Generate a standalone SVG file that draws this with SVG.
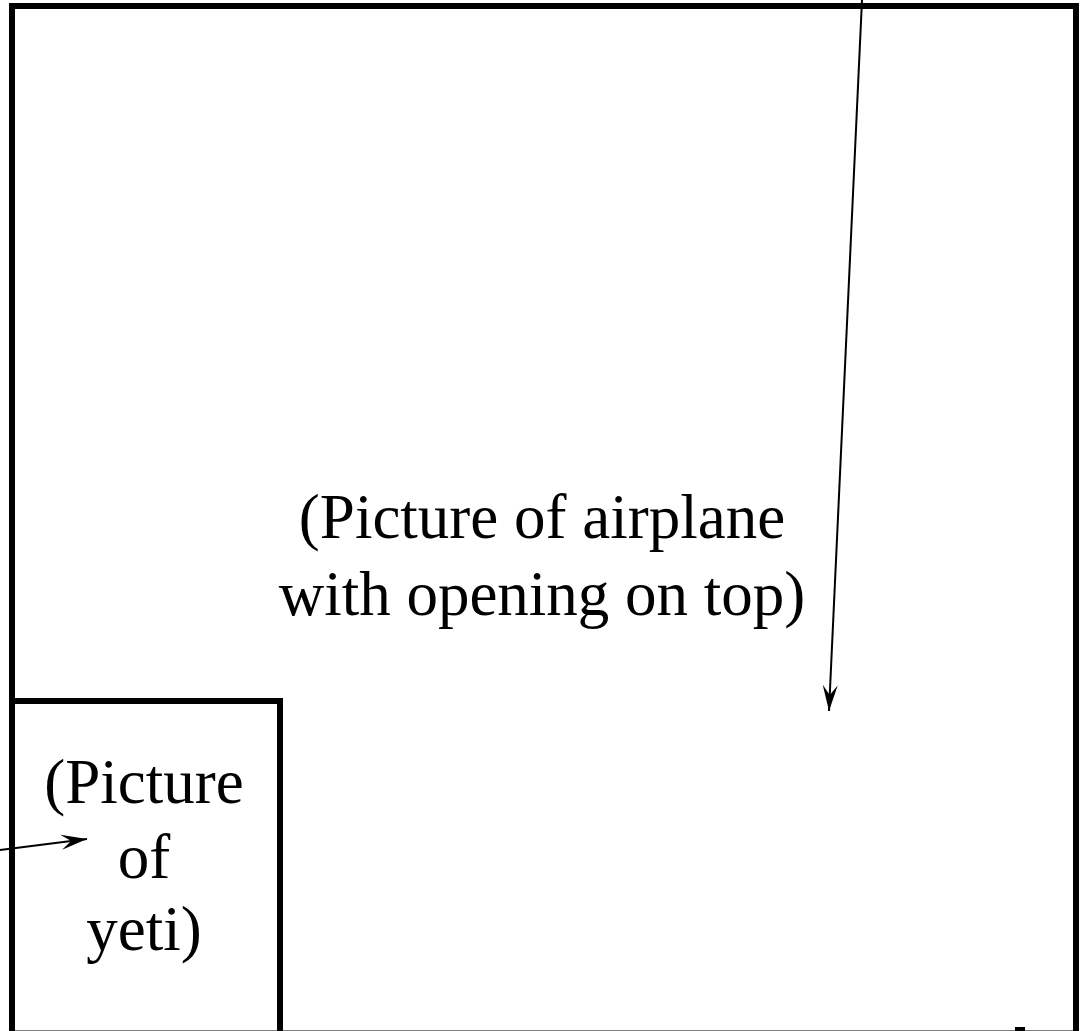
<svg xmlns="http://www.w3.org/2000/svg" width="1085" height="1031" viewBox="0 0 1085 1031">
  <style>
    .frame { fill: none; stroke: #000; stroke-width: 6; }
    .label { font-family: "Liberation Serif", "Times New Roman", serif; font-size: 63px; fill: #000; text-anchor: middle; }
    .conn { fill: none; stroke: #000; stroke-width: 2; }
  </style>
  <defs>
    <marker id="head" markerUnits="userSpaceOnUse" markerWidth="30" markerHeight="20" viewBox="-28 -10 30 20" refX="0" refY="0" orient="auto">
      <path d="M0,0 L-26,-7.5 L-16,0 L-26,7.5 Z" fill="#000"/>
    </marker>
  </defs>
  <rect width="1085" height="1031" fill="#fff"/>

  <!-- airplane panel -->
  <g id="airplane">
    <rect class="frame" x="12" y="6" width="1064" height="1027.5"/>
    <text class="label" x="542" y="538">(Picture of airplane</text>
    <text class="label" x="542" y="615">with opening on top)</text>
  </g>

  <!-- yeti panel -->
  <g id="yeti">
    <path class="frame" d="M12,701 H280 V1040"/>
    <text class="label" x="144" y="803">(Picture</text>
    <text class="label" x="144" y="878">of</text>
    <text class="label" x="144" y="950">yeti)</text>
  </g>

  <!-- small tick on lower edge -->
  <g id="tick">
    <rect x="1015" y="1027" width="10" height="4" fill="#000"/>
  </g>

  <!-- pointers -->
  <g id="connectors">
    <line class="conn" x1="862" y1="0" x2="829" y2="711" marker-end="url(#head)"/>
    <line class="conn" x1="0" y1="850" x2="87" y2="839" marker-end="url(#head)"/>
  </g>
</svg>
